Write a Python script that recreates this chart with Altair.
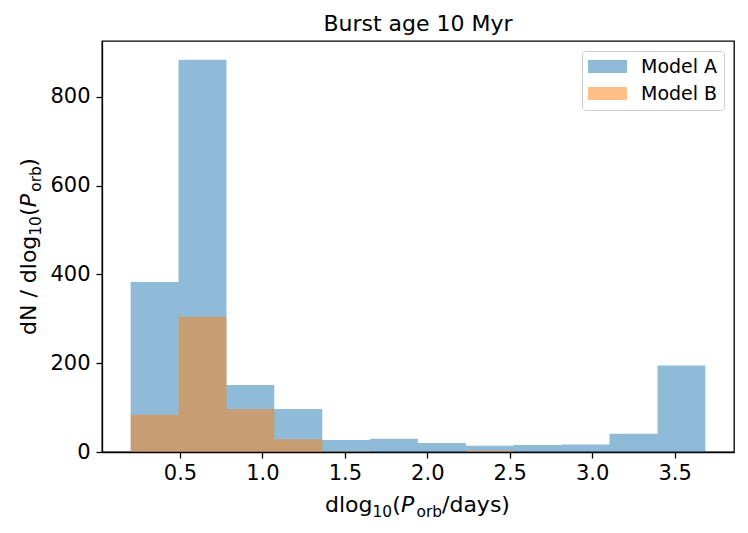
import altair as alt
import pandas as pd

# ---- data ----
bin_edges = [0.201, 0.491, 0.782, 1.072, 1.363, 1.653, 1.943, 2.234, 2.524, 2.815, 3.105, 3.396, 3.686]
model_a = [383, 884, 151, 97, 27, 30, 20, 14, 16, 17, 41, 195]
model_b = [84, 305, 97, 29, 1, 0, 0, 3, 0, 0, 0, 0]
series_names = ["Model A", "Model B"]
series_colors = ["#1f77b4", "#ff7f0e"]
x_ticks = [0.5, 1.0, 1.5, 2.0, 2.5, 3.0, 3.5]
y_ticks = [0, 200, 400, 600, 800]
title_text = "Burst age 10 Myr"

# step-histogram table: one row per bin edge (last edge closes the final bin)
rows = []
for name, vals in zip(series_names, [model_a, model_b]):
    for i, edge in enumerate(bin_edges):
        v = vals[i] if i < len(vals) else vals[-1]
        rows.append({"series": name, "edge": edge, "count": v})
df = pd.DataFrame(rows)

FONT = "DejaVu Sans"
W, H = 632, 411

bars = alt.Chart(df).mark_area(opacity=0.5, interpolate="step-after").encode(
    x=alt.X("edge:Q", scale=alt.Scale(domain=[0.027, 3.860], nice=False, zero=False),
            axis=alt.Axis(values=x_ticks, format=".1f", title=None)),
    y=alt.Y("count:Q", stack=None, scale=alt.Scale(domain=[0, 926], nice=False),
            axis=alt.Axis(values=y_ticks, format="d", title=None)),
    color=alt.Color("series:N",
                    scale=alt.Scale(domain=series_names, range=series_colors),
                    legend=alt.Legend(title=None, orient="top-right", offset=10,
                                      symbolType="M-1,-0.684H3.105V0.684H-1Z",
                                      symbolSize=361, symbolStrokeWidth=0,
                                      symbolOpacity=0.5, labelFontSize=19,
                                      labelFont=FONT, labelColor="black",
                                      labelOffset=34, rowPadding=7,
                                      padding=6, fillColor="white",
                                      strokeColor="#cccccc", cornerRadius=3)),
)

one = alt.Data(values=[{"k": 1}])


def piece(text, x, y, size, italic=False, angle=0, align="left"):
    kw = dict(text=text, align=align, baseline="alphabetic", font=FONT,
              fontSize=size, color="black")
    if italic:
        kw["fontStyle"] = "italic"
    if angle:
        kw["angle"] = angle
    return alt.Chart(one).mark_text(**kw).encode(x=alt.value(x), y=alt.value(y))


MAIN, SUB = 22, 15.4
# chart title
tt = [piece(title_text, W / 2, -10, 22, align="center")]
# x axis title: dlog10(P_orb/days)
xs, yb, ys = 223, 471, 475.7
xt = [
    piece("dlog", xs, yb, MAIN),
    piece("10", xs + 47.5, ys, SUB),
    piece("(", xs + 67.3, yb, MAIN),
    piece("P", xs + 76, yb, MAIN, italic=True),
    piece("orb", xs + 91.5, ys, SUB),
    piece("/days)", xs + 117, yb, MAIN),
]
# y axis title: dN / dlog10(P_orb), rotated
y0, xb, xsb = 294, -66, -61.3
yt = [
    piece("dN / dlog", xb, y0, MAIN, angle=270),
    piece("10", xsb, y0 - 99.3, SUB, angle=270),
    piece("(", xb, y0 - 119.1, MAIN, angle=270),
    piece("P", xb, y0 - 127.8, MAIN, italic=True, angle=270),
    piece("orb", xsb, y0 - 143.3, SUB, angle=270),
    piece(")", xb, y0 - 168.3, MAIN, angle=270),
]

chart = alt.layer(bars, *tt, *xt, *yt).properties(
    width=W, height=H,
    padding={"left": 94, "top": 33, "right": 6, "bottom": 73},
    autosize=alt.AutoSizeParams(type="none"),
).configure_view(
    stroke="black", strokeWidth=1.3
).configure_axis(
    grid=False, domainColor="black", domainWidth=1.3, tickColor="black",
    tickWidth=1.3, tickSize=6, labelFont=FONT, labelFontSize=21,
    labelColor="black", labelPadding=4
).configure_axisY(labelPadding=6)

chart.save("out.html", embed_options={"renderer": "svg", "actions": False})
